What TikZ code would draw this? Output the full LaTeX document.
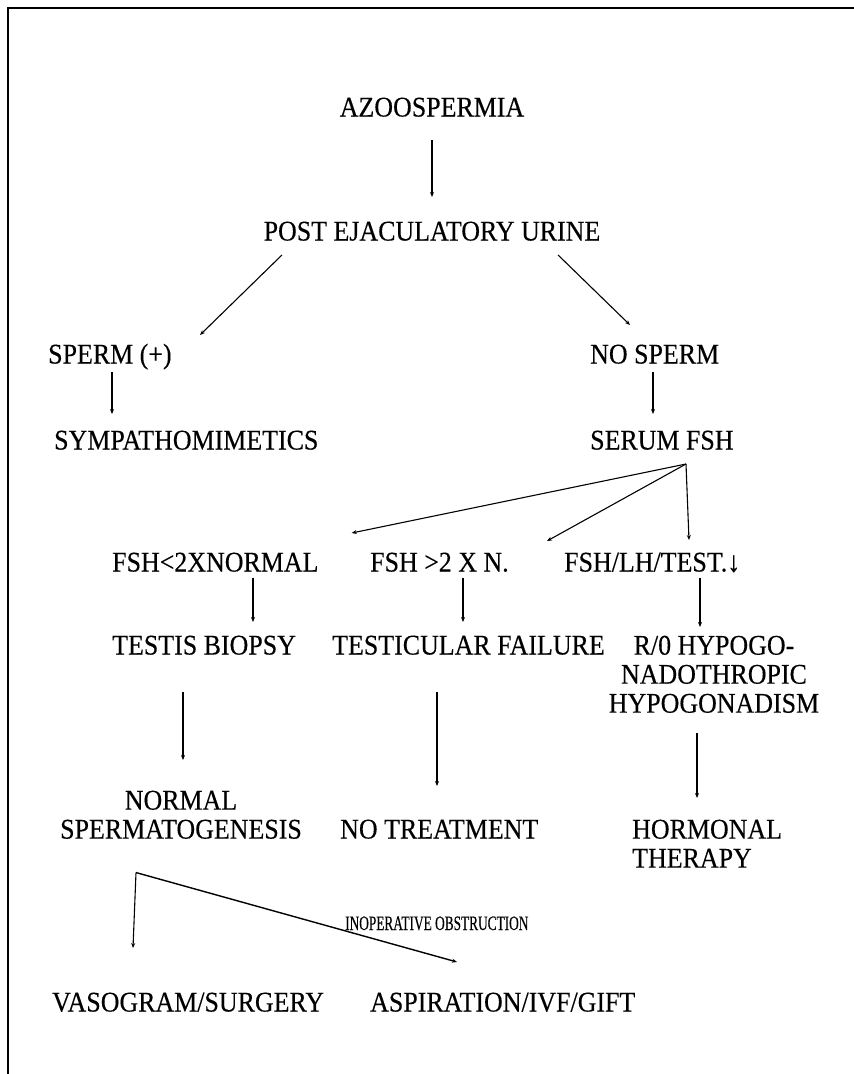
\documentclass[tikz,border=0pt]{standalone}
\usepackage{fontspec}
\setmainfont{Liberation Serif}[FakeStretch=0.91, FakeBold=0.3]
\newfontfamily\notefont{Liberation Serif}[FakeStretch=0.65, FakeBold=0.3]
\usetikzlibrary{arrows.meta,calc}

\tikzset{
  lbl/.style={inner sep=0pt, anchor=base west, font=\fontsize{28.5}{29}\selectfont},
  blk/.style={lbl, align=center, anchor=north},
  note/.style={inner sep=0pt, anchor=base west, font=\notefont\fontsize{20.5}{22}\selectfont},
  arr/.style={-{Stealth[length=5pt,width=4pt]}, line width=1.1pt}
}

\begin{document}
\begin{tikzpicture}[x=1pt,y=-1pt]
  \useasboundingbox (0,0) rectangle (854,1074);

  % Frame
  \draw[line width=2pt] (8,1074) -- (8,8) -- (854,8);

  % Top of the tree
  \node[lbl, anchor=base] (azo) at (432,116.5) {AZOOSPERMIA};
  \node[lbl, anchor=base] (post) at (432,240.5) {POST EJACULATORY URINE};

  % Sperm or no sperm
  \node[lbl] (sperm) at (48,363.5) {SPERM (+)};
  \node[lbl] (nosperm) at (590,363.5) {NO SPERM};
  \node[lbl] (symp) at (54,449.5) {SYMPATHOMIMETICS};
  \node[lbl] (serum) at (590,449.5) {SERUM FSH};

  % FSH levels
  \node[lbl] (fshlow) at (112,571.5) {FSH<2XNORMAL};
  \node[lbl] (fshhigh) at (370,571.5) {FSH >2 X N.};
  \node[lbl] (fshall) at (564,571.5) {FSH/LH/TEST.↓};

  % Diagnosis
  \node[lbl] (biopsy) at (112,654.5) {TESTIS BIOPSY};
  \node[lbl] (failure) at (332,654.5) {TESTICULAR FAILURE};
  \node[blk] (hypo) at (714,635.5) {R/0 HYPOGO-\\NADOTHROPIC\\HYPOGONADISM};

  % Outcome
  \node[blk] (normal) at (181,790.5) {NORMAL\\SPERMATOGENESIS};
  \node[lbl] (notreat) at (340,838.5) {NO TREATMENT};
  \node[blk, align=left, anchor=north west] (hormonal) at (632,819.5) {HORMONAL\\THERAPY};

  % Last step
  \node[note] (inop) at (345,930) {INOPERATIVE OBSTRUCTION};
  \node[lbl] (vaso) at (52,1011.5) {VASOGRAM/SURGERY};
  \node[lbl] (aspir) at (370,1011.5) {ASPIRATION/IVF/GIFT};

  % Arrows
  \draw[arr] ($(azo.base)+(0,23.5)$) -- ($(post.base)+(0,-43.5)$);
  \draw[arr] ($(post.base west)+(18.5,14.5)$) -- ($(sperm.base west)+(152,-28.5)$);
  \draw[arr] ($(post.base east)+(-42.5,14.5)$) -- ($(nosperm.base west)+(40,-38.5)$);
  \draw[arr] ($(sperm.base west)+(64,8.5)$) -- ($(symp.base west)+(58,-35.5)$);
  \draw[arr] ($(nosperm.base west)+(63,8.5)$) -- ($(serum.base west)+(63,-35.5)$);

  \coordinate (fan) at ($(serum.base west)+(96,14.5)$);
  \draw[arr] (fan) -- ($(fshlow.base east)+(33,-38.5)$);
  \draw[arr] (fan) -- ($(fshall.base west)+(-17,-30.5)$);
  \draw[arr] (fan) -- ($(fshall.base west)+(125,-31.5)$);

  \draw[arr] ($(fshlow.base west)+(141,6.5)$) -- ($(biopsy.base west)+(141,-32.5)$);
  \draw[arr] ($(fshhigh.base west)+(93,6.5)$) -- ($(failure.base west)+(131,-32.5)$);
  \draw[arr] ($(fshall.base west)+(136,6.5)$) -- ($(hypo.north)+(-14,-8.5)$);

  \draw[arr] ($(biopsy.base west)+(71,37.5)$) -- ($(normal.north)+(2,-30.5)$);
  \draw[arr] ($(failure.base west)+(105,37.5)$) -- ($(notreat.base west)+(97,-52.5)$);
  \draw[arr] ($(hypo.south)+(-17,20)$) -- ($(hormonal.north west)+(65,-21.5)$);

  \coordinate (split) at ($(normal.south)+(-45,33.5)$);
  \draw[arr] (split) -- ($(vaso.base west)+(81,-63.5)$);
  \draw[arr, line width=1.4pt] (split) -- ($(aspir.base west)+(87,-49.5)$);
\end{tikzpicture}
\end{document}
